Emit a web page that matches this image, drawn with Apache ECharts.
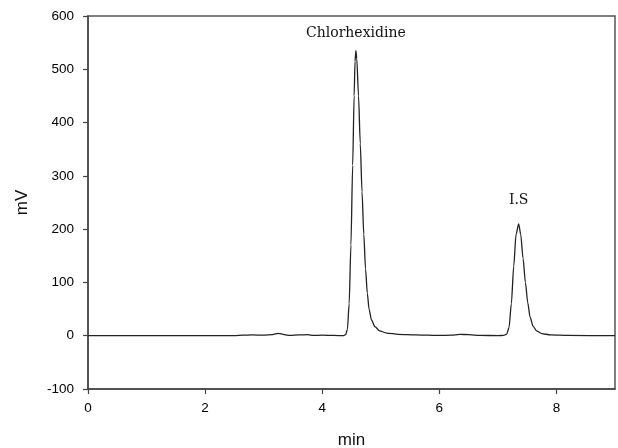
<!doctype html>
<html lang="en">
<head>
  <meta charset="UTF-8">
  <title>Chromatogram</title>
  <style>
    * { margin: 0; padding: 0; }
    html, body { width: 100%; height: 100%; background: #fff; }
    #main { width: 618px; height: 448px; }
  </style>
  <script src="https://cdn.jsdelivr.net/npm/echarts@6/dist/echarts.min.js"></script>
</head>
<body>
  <div id="main"></div>
  <script>
    // retention time (min) and detector signal (mV)
    let times = [
      0, 2.5, 2.65, 2.8, 3.0, 3.15, 3.25, 3.35, 3.45, 3.6, 3.75, 3.85, 4.0, 4.2, 4.36,
      4.40, 4.43, 4.46, 4.49, 4.52, 4.545, 4.56, 4.575, 4.59, 4.62, 4.65, 4.68, 4.71,
      4.74, 4.77, 4.80, 4.84, 4.90, 4.98, 5.10, 5.3, 5.6, 5.8, 6.0, 6.2, 6.35, 6.5,
      6.7, 7.0, 7.10, 7.15, 7.19, 7.23, 7.27, 7.31, 7.355, 7.39, 7.43, 7.47, 7.51,
      7.55, 7.60, 7.66, 7.75, 7.9, 8.2, 9.0
    ];
    let signal = [
      0, 0, 1, 1.5, 1, 2, 4.5, 2, 0.5, 1.5, 2, 0.5, 1, 0.5, 0,
      2, 12, 60, 170, 320, 450, 515, 535, 520, 450, 360, 270, 190,
      125, 80, 50, 30, 17, 9, 5, 2.5, 1.5, 1, 0.5, 1, 2.5, 2,
      0.5, 0.3, 0.5, 3, 15, 60, 130, 190, 210, 190, 145, 100, 62,
      35, 18, 9, 4, 1.5, 0.5, 0
    ];
    let xTicks = [0, 2, 4, 6, 8];
    let peaks = [
      { name: 'Chlorhexidine', time: 4.575, mv: 535, gap: 10 },
      { name: 'I.S', time: 7.355, mv: 210, gap: 16 }
    ];

    let myChart = echarts.init(document.getElementById('main'));
    let option = {
      animation: false,
      grid: {
        show: true,
        left: 88,
        right: 3,
        top: 16,
        bottom: 59,
        outerBoundsMode: 'none',
        containLabel: false,
        borderColor: '#555',
        borderWidth: 1.5
      },
      xAxis: {
        type: 'value',
        min: 0,
        max: 9,
        name: 'min',
        nameLocation: 'middle',
        nameGap: 43,
        nameTextStyle: { fontFamily: 'Liberation Sans', fontSize: 17, color: '#111' },
        axisLine: { onZero: false, lineStyle: { color: '#444', width: 1.5 } },
        axisTick: { length: 5, customValues: xTicks, lineStyle: { color: '#444', width: 1.2 } },
        axisLabel: {
          customValues: xTicks,
          margin: 12,
          fontFamily: 'Liberation Sans',
          fontSize: 13.5,
          color: '#000'
        },
        splitLine: { show: false }
      },
      yAxis: {
        type: 'value',
        min: -100,
        max: 600,
        interval: 100,
        name: 'mV',
        nameLocation: 'middle',
        nameGap: 57,
        nameTextStyle: { fontFamily: 'Liberation Sans', fontSize: 17, color: '#111' },
        axisLine: { show: true, lineStyle: { color: '#444', width: 1.5 } },
        axisTick: { show: true, length: 5, lineStyle: { color: '#444', width: 1.2 } },
        axisLabel: {
          margin: 14,
          fontFamily: 'Liberation Sans',
          fontSize: 13.5,
          color: '#000'
        },
        splitLine: { show: false }
      },
      series: [
        {
          type: 'line',
          data: times.map(function (t, i) { return [t, signal[i]]; }),
          showSymbol: false,
          smooth: 0.25,
          smoothMonotone: 'x',
          lineStyle: { color: '#222', width: 1.3 },
          markPoint: {
            symbol: 'circle',
            symbolSize: 0,
            silent: true,
            data: peaks.map(function (p) {
              return {
                name: p.name,
                coord: [p.time, p.mv],
                label: {
                  show: true,
                  position: 'top',
                  distance: p.gap,
                  formatter: p.name,
                  fontFamily: 'DejaVu Serif',
                  fontSize: 14,
                  color: '#111'
                }
              };
            })
          }
        }
      ]
    };
    myChart.setOption(option);
  </script>
</body>
</html>
